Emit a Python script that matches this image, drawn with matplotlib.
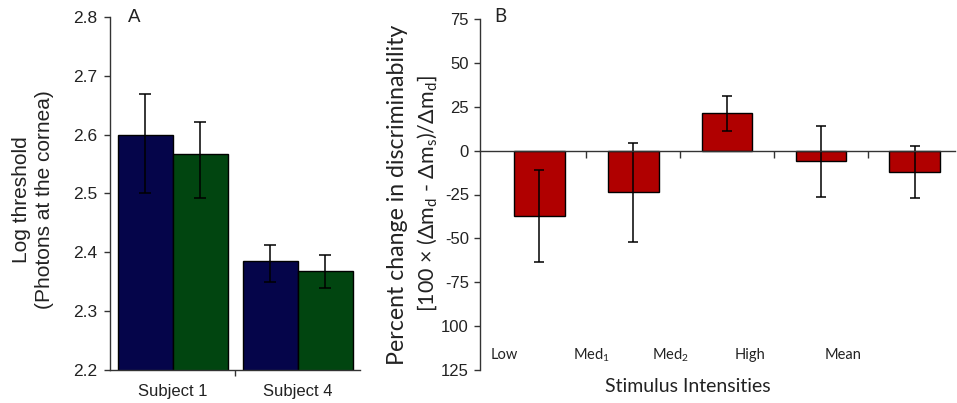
import matplotlib
matplotlib.use("Agg")
import matplotlib.pyplot as plt
import matplotlib.transforms as mtransforms
import numpy as np

plt.rcParams['font.family'] = ['Liberation Sans', 'DejaVu Sans']
plt.rcParams['mathtext.fontset'] = 'custom'
plt.rcParams['mathtext.rm'] = 'Lato'
plt.rcParams['mathtext.it'] = 'Lato:italic'

# Panel A: log thresholds per subject, two conditions
subjects = ["Subject 1", "Subject 4"]
thr_cond1 = [2.600, 2.385]
thr_cond1_err_lo = [0.100, 0.036]
thr_cond1_err_hi = [0.069, 0.028]
thr_cond2 = [2.567, 2.369]
thr_cond2_err_lo = [0.075, 0.029]
thr_cond2_err_hi = [0.055, 0.027]
a_yticks = [2.2, 2.3, 2.4, 2.5, 2.6, 2.7, 2.8]

# Panel B: percent change in discriminability per stimulus intensity
intensities = ["Low", "Med$_1$", "Med$_2$", "High", "Mean"]
pct_change = [-37.0, -23.6, 21.2, -6.0, -12.0]
pct_err = [26.2, 28.2, 10.0, 20.3, 14.8]
b_yticks = [75, 50, 25, 0, -25, -50, -75, -100, -125]
b_yticklabels = ["75", "50", "25", "0", "-25", "-50", "-75", "100", "125"]

navy = "#05054a"
green = "#014510"
red = "#b00000"
ink = "#222222"
axis_col = "#333333"

fig = plt.figure(figsize=(9.57, 4.03), dpi=100)
W, H = 957, 403

# ---------------- Panel A ----------------
axA = fig.add_axes([110 / W, 1 - 370 / H, 250 / W, 353 / H])
x = np.arange(len(subjects))
bw = 0.44
ekw = dict(ecolor="black", elinewidth=1.1, capsize=4, capthick=1.1)
axA.bar(x - bw / 2, thr_cond1, bw, color=navy, edgecolor="black", linewidth=1.0,
        yerr=[thr_cond1_err_lo, thr_cond1_err_hi], error_kw=ekw, zorder=2)
axA.bar(x + bw / 2, thr_cond2, bw, color=green, edgecolor="black", linewidth=1.0,
        yerr=[thr_cond2_err_lo, thr_cond2_err_hi], error_kw=ekw, zorder=2)
axA.set_xlim(-0.5, 1.5)
axA.set_ylim(2.2, 2.8)
axA.set_yticks(a_yticks)
axA.set_yticklabels([f"{v:.1f}" for v in a_yticks], fontsize=12.5, color=ink)
axA.set_xticks([0.5])
axA.set_xticklabels([])
axA.set_xticks(x, minor=True)
axA.set_xticklabels(subjects, minor=True, fontsize=12, color=ink)
axA.tick_params(axis="x", which="minor", length=0, pad=10)
axA.tick_params(axis="x", which="major", length=4, width=1, direction="out", color=axis_col)
axA.tick_params(axis="y", length=4, width=1, direction="out", pad=5, color=axis_col)
for s in ("top", "right"):
    axA.spines[s].set_visible(False)
for s in ("left", "bottom"):
    axA.spines[s].set_linewidth(1.0)
    axA.spines[s].set_color(axis_col)
fig.text(21.7 / W, 1 - 200 / H, "Log threshold", rotation=90,
         ha="center", va="center", fontsize=15, color=ink)
fig.text(45 / W, 1 - 200 / H, "(Photons at the cornea)", rotation=90,
         ha="center", va="center", fontsize=15, color=ink)
fig.text(134 / W, 1 - 17 / H, "A", ha="center", va="center", fontsize=13.5, color=ink)

# ---------------- Panel B ----------------
axB = fig.add_axes([480 / W, 1 - 370 / H, 475 / W, 351 / H])
xb = np.arange(len(intensities))
axB.bar(xb, pct_change, 0.54, color=red, edgecolor="black", linewidth=1.0,
        yerr=pct_err, error_kw=dict(ecolor="black", elinewidth=1.1, capsize=3.5, capthick=1.1),
        zorder=2)
axB.set_xlim(-0.634, 4.43)
axB.set_ylim(-125, 75)
axB.set_yticks(b_yticks)
axB.set_yticklabels(b_yticklabels, fontsize=12, color=ink)
axB.tick_params(axis="y", length=4, width=1, direction="out", pad=4, color=axis_col)
axB.spines["bottom"].set_position(("data", 0))
axB.set_xticks(xb[:-1] + 0.5)
axB.set_xticklabels([])
axB.tick_params(axis="x", length=5, width=1, direction="out", color=axis_col)
for s in ("top", "right"):
    axB.spines[s].set_visible(False)
for s in ("left", "bottom"):
    axB.spines[s].set_linewidth(1.0)
    axB.spines[s].set_color(axis_col)

# category labels sit low, shifted left of each bar
label_shift = [0.38, 0.45, 0.60, 0.76, 0.76]
trans = mtransforms.blended_transform_factory(axB.transData, axB.transAxes)
for i, (lab, sh) in enumerate(zip(intensities, label_shift)):
    axB.text(xb[i] - sh, 0.043, lab, transform=trans, ha="center", va="center",
             fontsize=10.5, family="Lato", color=ink)

fig.text(398 / W, 1 - 195 / H, "Percent change in discriminability", rotation=90,
         ha="center", va="center", fontsize=16.7, family="Lato", color=ink)
fig.text(427 / W, 1 - 194 / H,
         r"[100 × ($\Delta$m$_\mathrm{d}$ - $\Delta$m$_\mathrm{s}$)/$\Delta$m$_\mathrm{d}$]",
         rotation=90, ha="center", va="center", fontsize=15.5, family="Lato", color=ink)
fig.text(688 / W, 1 - 387 / H, "Stimulus Intensities", ha="center", va="center",
         fontsize=14, family="Lato", color=ink)
fig.text(500 / W, 1 - 17 / H, "B", ha="center", va="center", fontsize=13.5,
         family="Lato", color=ink)

fig.savefig("out.png", dpi=100, facecolor="white")
